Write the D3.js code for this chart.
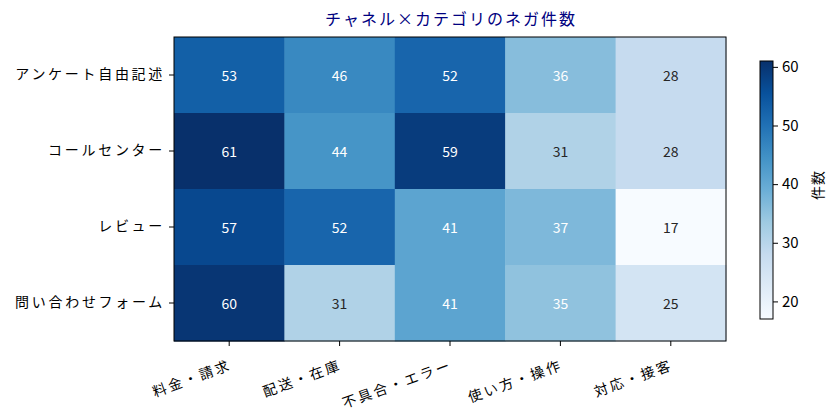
<!DOCTYPE html>
<html>
<head>
<meta charset="utf-8">
<script src="https://cdn.jsdelivr.net/npm/d3@7"></script>
<style>
  body { margin: 0; background: #fff; }
  svg text { font-family: "Noto Sans CJK JP", "DejaVu Sans", sans-serif; }
</style>
</head>
<body>
<svg id="chart" width="840" height="420"></svg>
<script>
"use strict";

// data
const channels = ["アンケート自由記述", "コールセンター", "レビュー", "問い合わせフォーム"];
const categories = ["料金・請求", "配送・在庫", "不具合・エラー", "使い方・操作", "対応・接客"];
const counts = [
    [53, 46, 52, 36, 28],
    [61, 44, 59, 31, 28],
    [57, 52, 41, 37, 17],
    [60, 31, 41, 35, 25]
];
const cbarTicks = [20, 30, 40, 50, 60];

// matplotlib "Blues" stops
const bluesStops = ["#f7fbff", "#deebf7", "#c6dbef", "#9ecae1", "#6baed6",
                    "#4292c6", "#2171b5", "#08519c", "#08306b"];

let svg = d3.select('#chart');
let plotL = 174, plotT = 37, plotR = 726, plotB = 341;

let cells = [];
channels.forEach((ch, i) => {
    categories.forEach((cat, j) => {
        cells.push({ch: ch, cat: cat, v: counts[i][j]});
    });
});

let vmin = d3.min(cells, d => d.v);
let vmax = d3.max(cells, d => d.v);

let blues = d3.scaleLinear()
    .domain(d3.range(bluesStops.length).map(k => k / (bluesStops.length - 1)))
    .range(bluesStops)
    .interpolate(d3.interpolateRgb);
let norm = d3.scaleLinear().domain([vmin, vmax]).range([0, 1]);
let getColor = v => blues(norm(v));

let x = d3.scaleBand().domain(categories).range([plotL, plotR]);
let y = d3.scaleBand().domain(channels).range([plotT, plotB]);

// cells
svg.append("g").selectAll("rect")
    .data(cells)
    .enter()
    .append("rect")
      .attr("x", d => x(d.cat))
      .attr("y", d => y(d.ch))
      .attr("width", x.bandwidth() + 0.5)
      .attr("height", y.bandwidth() + 0.5)
      .style("fill", d => getColor(d.v));

svg.append("g").selectAll("text")
    .data(cells)
    .enter()
    .append("text")
      .attr("x", d => x(d.cat) + x.bandwidth() / 2)
      .attr("y", d => y(d.ch) + y.bandwidth() / 2)
      .attr("text-anchor", "middle")
      .attr("dominant-baseline", "central")
      .style("font-size", "14px")
      .style("fill", d => norm(d.v) > 0.4 ? "#ffffff" : "#262626")
      .text(d => d.v);

// frame
svg.append("rect")
    .attr("x", plotL).attr("y", plotT)
    .attr("width", plotR - plotL).attr("height", plotB - plotT)
    .style("fill", "none").style("stroke", "#000").style("stroke-width", 1);

// axes
let xAxis = svg.append("g")
    .attr("transform", `translate(0,${plotB})`)
    .call(d3.axisBottom(x).tickSize(5).tickPadding(4));
xAxis.select(".domain").remove();
xAxis.selectAll("text")
    .style("font-size", "14px")
    .style("letter-spacing", "2.5px")
    .style("fill", "#000")
    .attr("text-anchor", "end")
    .attr("y", 0)
    .attr("dy", 0)
    .attr("transform", "translate(3,28) rotate(-20)");

let yAxis = svg.append("g")
    .attr("transform", `translate(${plotL},0)`)
    .call(d3.axisLeft(y).tickSize(5).tickPadding(4));
yAxis.select(".domain").remove();
yAxis.selectAll("text")
    .style("font-size", "14px")
    .style("letter-spacing", "2.7px")
    .style("fill", "#000");

// title
svg.append("text")
    .attr("x", (plotL + plotR) / 2 + 1)
    .attr("y", 25)
    .attr("text-anchor", "middle")
    .style("font-size", "16px")
    .style("letter-spacing", "2px")
    .style("fill", "#000080")
    .text("チャネル×カテゴリのネガ件数");

// colorbar
let cbX = 760, cbW = 13, cbTop = 61, cbBottom = 319;
let cbScale = d3.scaleLinear().domain([vmin, vmax]).range([cbBottom, cbTop]);

let defs = svg.append("defs");
let grad = defs.append("linearGradient")
    .attr("id", "cbgrad")
    .attr("x1", "0").attr("y1", "1").attr("x2", "0").attr("y2", "0");
grad.selectAll("stop")
    .data(bluesStops)
    .enter()
    .append("stop")
      .attr("offset", (d, k) => k / (bluesStops.length - 1))
      .attr("stop-color", d => d);

svg.append("rect")
    .attr("x", cbX).attr("y", cbTop)
    .attr("width", cbW).attr("height", cbBottom - cbTop)
    .style("fill", "url(#cbgrad)")
    .style("stroke", "#000").style("stroke-width", 1);

let cbAxis = svg.append("g")
    .attr("transform", `translate(${cbX + cbW},0)`)
    .call(d3.axisRight(cbScale).tickValues(cbarTicks).tickSize(5).tickPadding(4));
cbAxis.select(".domain").remove();
cbAxis.selectAll("text").style("font-size", "15px").style("fill", "#000");

svg.append("text")
    .attr("transform", "translate(817,185) rotate(-90)")
    .attr("text-anchor", "middle")
    .attr("dominant-baseline", "central")
    .style("font-size", "14px")
    .style("letter-spacing", "1px")
    .text("件数");
</script>
</body>
</html>
